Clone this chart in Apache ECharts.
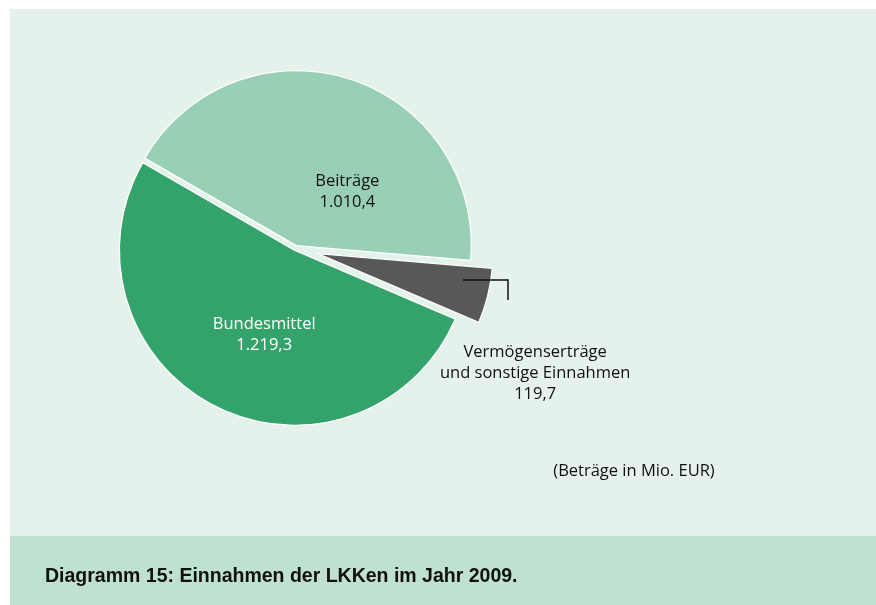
<!DOCTYPE html>
<html>
<head>
<meta charset="utf-8">
<script src="https://cdn.jsdelivr.net/npm/echarts@6/dist/echarts.min.js"></script>
<style>
html,body{margin:0;padding:0;background:#ffffff;}
#chart{width:876px;height:605px;}
</style>
</head>
<body>
<div id="chart"></div>
<script>
// ---- data ----
const categories = ['Beiträge', 'Vermögenserträge\nund sonstige Einnahmen', 'Bundesmittel'];
const values = [1010.4, 119.7, 1219.3];
const sliceColors = ['#99d0b5', '#58585a', '#33a36b'];
const labelColors = ['#111111', '#111111', '#ffffff'];
const unitNote = '(Beträge in Mio. EUR)';
const captionText = 'Diagramm 15: Einnahmen der LKKen im Jahr 2009.';

// ---- styling / layout ----
const pieCenter = [295.5, 248];
const pieRadius = 175;
const explode = [2.5, 23, 2.5];
const labelShift = [[24, 33], [129.5, 98], [10.3, 3.5]];
const labelFont = '"Open Sans", "Noto Sans", sans-serif';

function fmtDE(v) {
  const s = v.toFixed(1);
  let [ip, dp] = s.split('.');
  ip = ip.replace(/\B(?=(\d{3})+(?!\d))/g, '.');
  return ip + ',' + dp;
}

const series = categories.map((cat, i) => ({
  type: 'pie',
  center: pieCenter,
  radius: [0, pieRadius],
  startAngle: 150,
  clockwise: true,
  avoidLabelOverlap: false,
  selectedMode: 'single',
  selectedOffset: explode[i],
  silent: true,
  animation: false,
  emphasis: { disabled: true },
  labelLine: { show: false },
  labelLayout: { dx: labelShift[i][0], dy: labelShift[i][1] },
  data: categories.map((c, j) => ({
    name: c,
    value: values[j],
    selected: j === i,
    itemStyle: j === i
      ? { color: sliceColors[j], borderColor: '#ffffff', borderWidth: 1.2 }
      : { color: 'rgba(0,0,0,0)', borderWidth: 0 },
    label: j === i ? {
      show: true,
      position: 'inside',
      color: labelColors[j],
      fontFamily: labelFont,
      fontSize: 16.5,
      lineHeight: 21,
      align: 'center',
      formatter: (p) => p.name + '\n' + fmtDE(p.value)
    } : { show: false }
  }))
}));

const chart = echarts.init(document.getElementById('chart'), null, { renderer: 'canvas' });
chart.setOption({
  backgroundColor: '#ffffff',
  animation: false,
  graphic: [
    { type: 'rect', z: -10, shape: { x: 10, y: 9, width: 866, height: 527 }, style: { fill: '#e5f2ec' } },
    { type: 'rect', z: -10, shape: { x: 10, y: 536, width: 866, height: 69 }, style: { fill: '#bfe1d0' } },
    { type: 'polyline', z: 100, shape: { points: [[463, 280], [508, 280], [508, 300]] }, style: { stroke: '#111111', lineWidth: 1.5, fill: null } },
    { type: 'text', z: 100, x: 634, y: 471, style: { text: unitNote, fill: '#111111', font: '16.5px ' + labelFont, textAlign: 'center', textVerticalAlign: 'middle' } },
    { type: 'text', z: 100, x: 45, y: 577, style: { text: captionText, fill: '#111111', font: 'bold 19.5px "Liberation Sans", Arial, sans-serif', textAlign: 'left', textVerticalAlign: 'middle' } }
  ],
  series: series
});
</script>
</body>
</html>
